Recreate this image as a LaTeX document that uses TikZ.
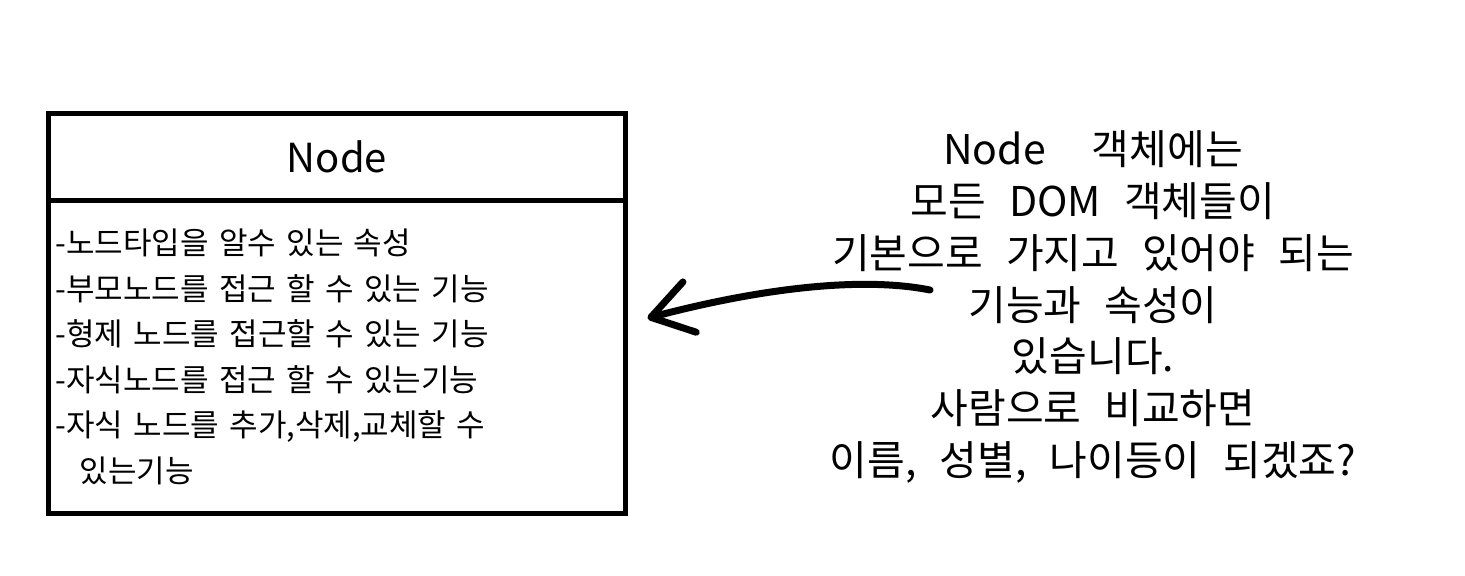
\documentclass[tikz,border=0pt]{standalone}
\usepackage{fontspec}
\setmainfont{Noto Sans CJK KR}
\newfontfamily\boxfont[WordSpace=2.6]{Noto Sans CJK KR}
\newfontfamily\notefont[WordSpace=2.5]{Noto Sans CJK KR}
\usetikzlibrary{positioning,arrows.meta}
\tikzset{boxpart/.style={draw, line width=2.5pt, inner sep=0pt, outer sep=0pt, minimum width=288.5pt},
         itemtext/.style={boxpart, minimum height=156.75pt, align=left, text width=281.5pt, font=\boxfont\fontsize{15.5}{22.75}\selectfont},
         notetext/.style={align=center, font=\notefont\fontsize{20.5}{25.85}\selectfont},
         pointer/.style={line width=3.5pt, line cap=round, -{Straight Barb[length=20pt,width=26pt,round]}}}

\begin{document}
\begin{tikzpicture}[x=0.5pt,y=-0.5pt]
   \useasboundingbox (0,0) rectangle (1465,575);
   \node[boxpart, minimum height=43.25pt, font=\fontsize{20}{24}\selectfont] (head) at (337,157) {Node};
   \node[itemtext, below=0pt of head] (body) {-노드타입을 알수 있는 속성\\
      -부모노드를 접근 할 수 있는 기능\\
      -형제 노드를 접근할 수 있는 기능\\
      -자식노드를 접근 할 수 있는기능\\
      -자식 노드를 추가,삭제,교체할 수\\
      \hspace*{12pt}있는기능};
   \node[notetext] (note) at (1093,307) {Node\ \ 객체에는\\ 모든 DOM 객체들이\\ 기본으로 가지고 있어야 되는\\
      기능과 속성이\\ 있습니다.\\ 사람으로 비교하면\\ 이름, 성별, 나이등이 되겠죠?};
   \coordinate (from) at (930,290);
   \draw[pointer] (from) .. controls (860,276) and (758,289) .. ([xshift=11pt,yshift=19.4pt]body.east);
\end{tikzpicture}
\end{document}
